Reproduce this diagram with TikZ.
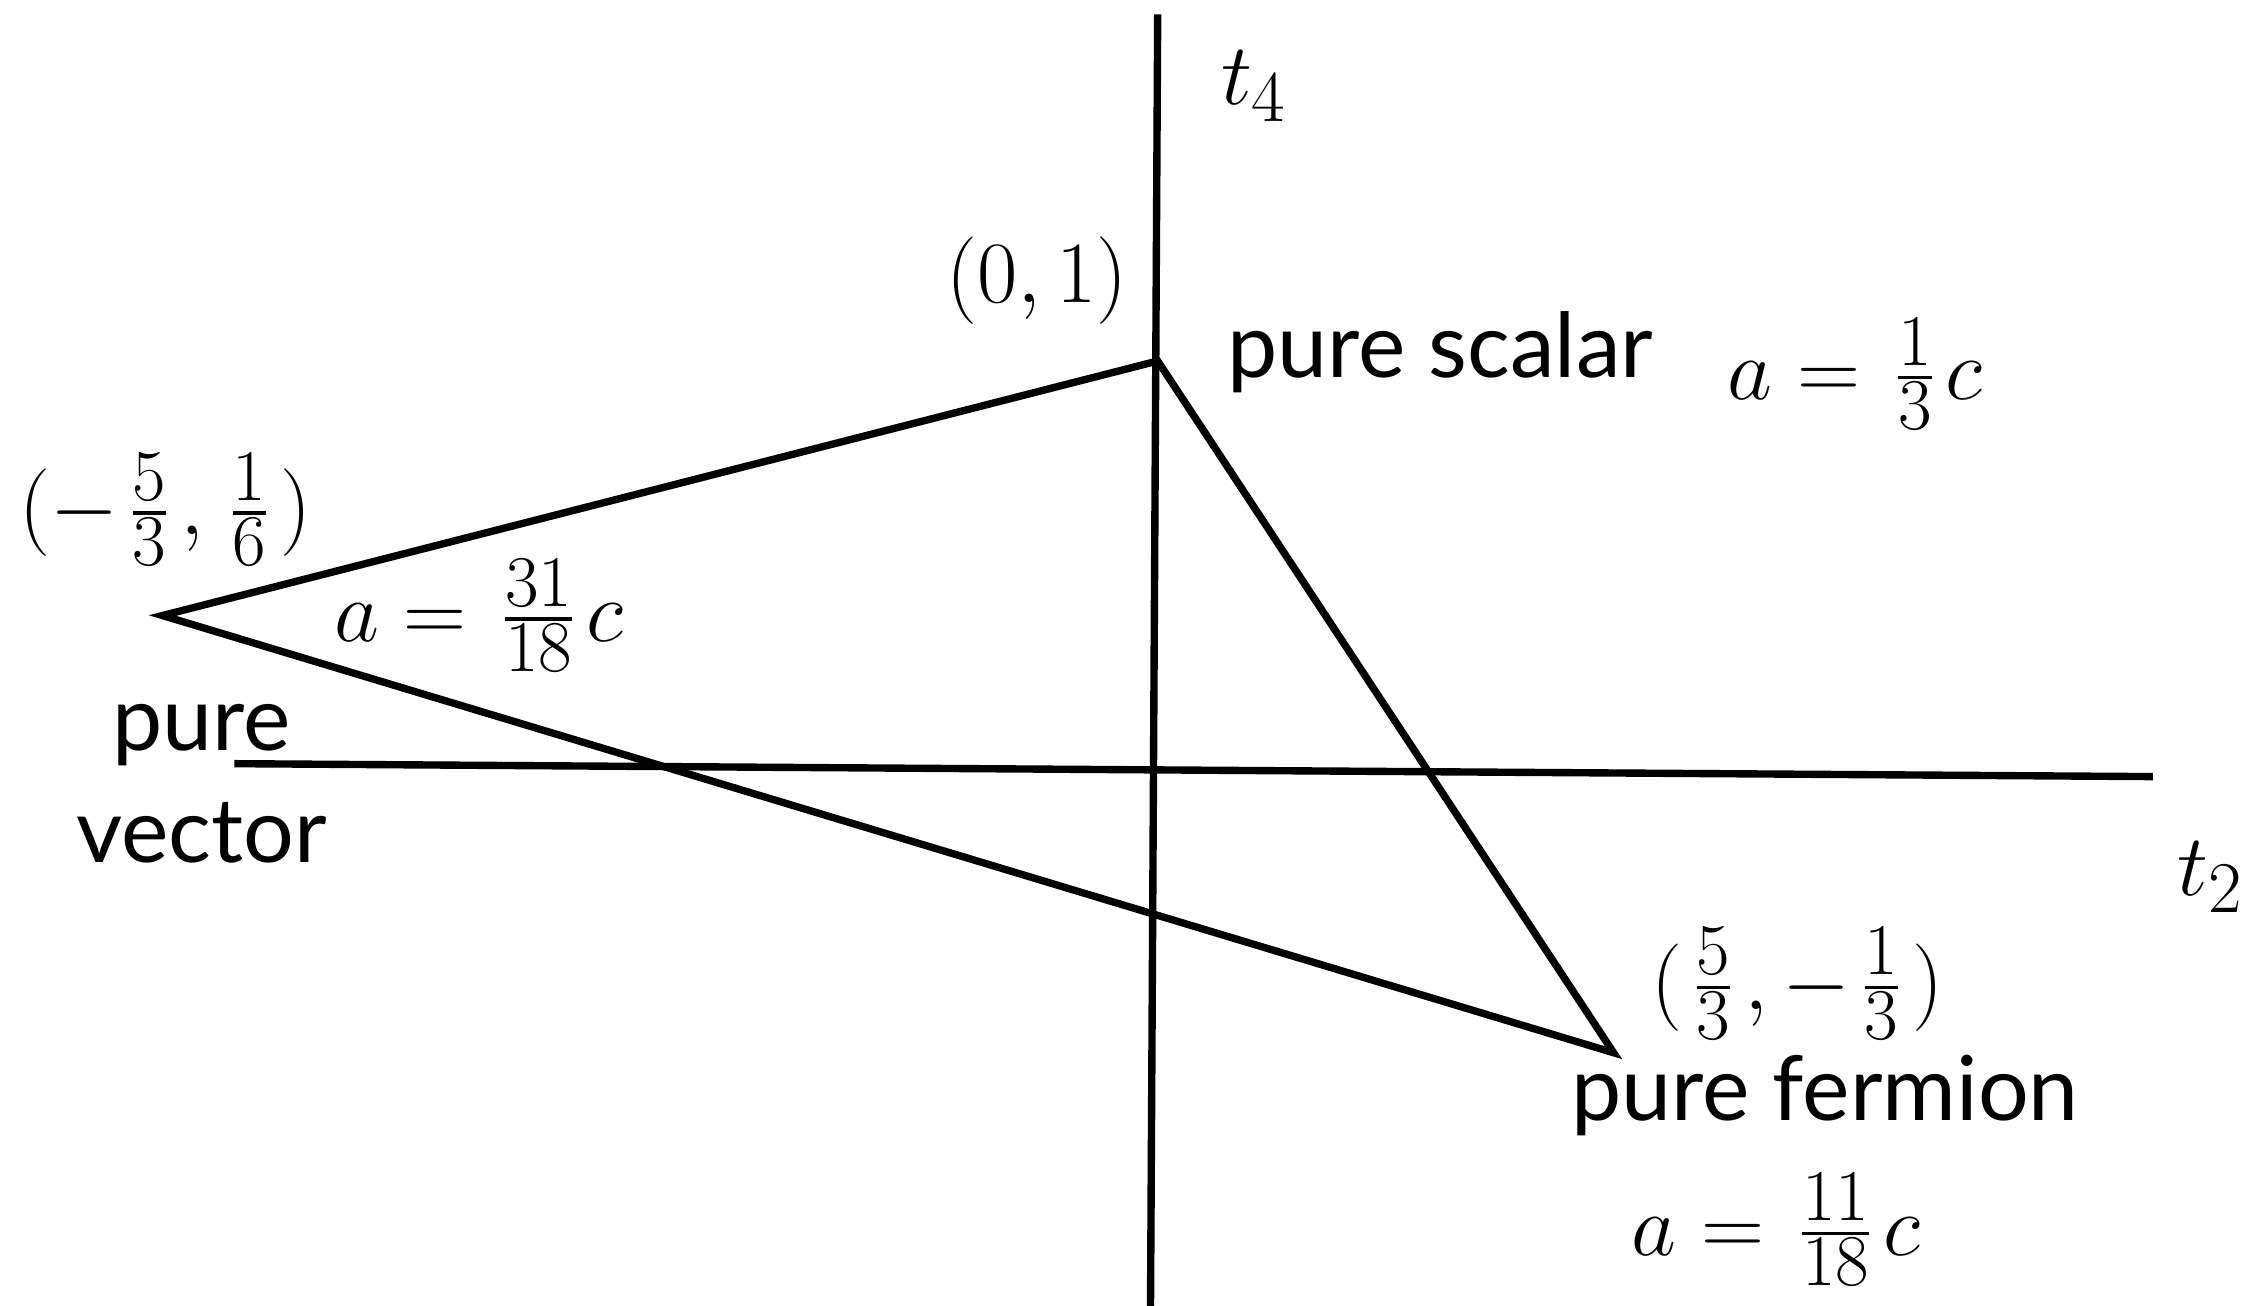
\documentclass[tikz,border=0pt]{standalone}
\usepackage{amsmath}
\usepackage{fontspec}
\setsansfont{Lato}
\usetikzlibrary{positioning}
\DeclareMathSizes{29}{29}{22}{17}
\newcommand{\mlabelfont}{\fontsize{29}{35}\selectfont\setlength{\nulldelimiterspace}{4pt}}
\tikzset{
	axisline/.style={line width=2.1pt},
	edgeline/.style={line width=2.1pt, line join=miter},
	mlabel/.style={font=\mlabelfont, inner sep=0pt},
	tlabel/.style={font=\fontsize{25.5}{32}\selectfont\sffamily, inner sep=0pt, align=center},
}

\begin{document}
\begin{tikzpicture}[x=0.1438mm, y=-0.1438mm]
			\useasboundingbox (0,0) rectangle (1568,908);
			% axes
			\coordinate (t4top) at (805,10);
			\coordinate (t4bot) at (800,908);
			\coordinate (t2left) at (163,531);
			\coordinate (t2right) at (1497,540);
			\draw[axisline] (t4bot) -- (t4top);
			\draw[axisline] (t2left) -- (t2right);
			\node[mlabel] (t4) at (872,60) {$t_4$};
			\node[mlabel] (t2) at (1537,610) {$t_2$};
			% triangle
			\coordinate (scalar) at (805,251);
			\coordinate (vector) at (113,428);
			\coordinate (fermion) at (1122,732);
			\draw[edgeline] (scalar) -- (vector) -- (fermion) -- cycle;
			% vertex labels
			\node[mlabel] (pScalar) at (721,195) {$(0,1)$};
			\node[tlabel, anchor=west] (nScalar) at (853,245) {pure scalar};
			\node[mlabel] (aScalar) at (1290,260) {$a=\frac{1}{3}c$};
			\node[mlabel] (pVector) at (115,354) {$(-\frac{5}{3},\frac{1}{6})$};
			\node[mlabel] (aVector) at (333,428) {$a=\frac{31}{18}c$};
			\node[tlabel] (nVector) at (140,545) {pure\\vector};
			\node[mlabel] (pFermion) at (1250,684) {$(\frac{5}{3},-\frac{1}{3})$};
			\node[tlabel] (nFermion) at (1269,762) {pure fermion};
			\node[mlabel] (aFermion) at (1235,855) {$a=\frac{11}{18}c$};
		\end{tikzpicture}
\end{document}
